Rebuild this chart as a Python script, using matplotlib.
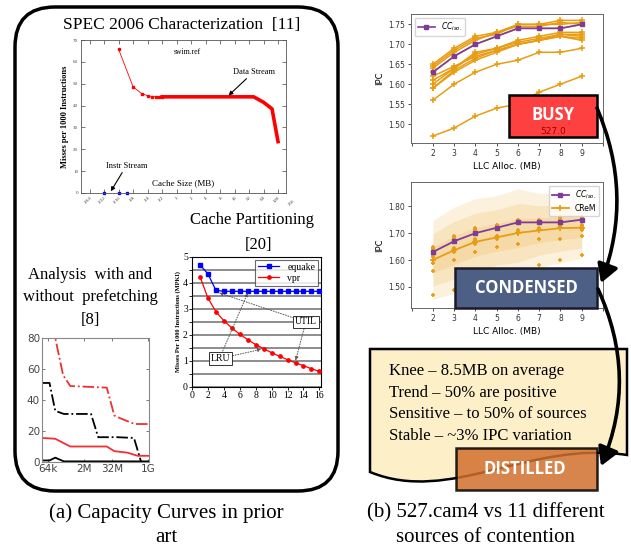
import numpy as np
import matplotlib.pyplot as plt
from matplotlib.patches import FancyBboxPatch, FancyArrowPatch, Rectangle, PathPatch
from matplotlib.path import Path
from matplotlib.ticker import FormatStrFormatter

SERIF = 'Liberation Serif'
SANS = 'DejaVu Sans'
BOX_FONT = 'Open Sans'

# ---- (a) SPEC 2006 characterization (swim.ref) ----
spec_ticks = [2.0 ** k for k in range(-6, 8)]
spec_ticklabels = ['1/64', '1/32', '1/16', '1/8', '1/4', '1/2', '1', '2', '4', '8',
                   '16', '32', '64', '128']
instr_x = [1/32, 1/16, 3/32]
instr_y = [0, 0, 0]
data_sparse_x = [1/16, 1/8, 3/16, 1/4, 5/16, 3/8, 7/16, 1/2]
data_sparse_y = [65.7, 48.5, 45.5, 44.5, 44.1, 44.0, 44.0, 44.0]
data_dense_x = [1/2, 1, 2, 4, 8, 16, 32, 40, 64, 96, 128]
data_dense_y = [44, 44, 44, 44, 44, 44, 44, 44, 41.5, 38.5, 23.5]

# ---- cache partitioning (equake / vpr) ----
cp_ways = list(range(1, 17))
equake = [4.7, 4.35, 3.72, 3.68, 3.68, 3.68, 3.68, 3.68, 3.68, 3.68, 3.68, 3.68,
          3.68, 3.68, 3.68, 3.68]
vpr = [4.25, 3.42, 2.9, 2.55, 2.27, 2.03, 1.82, 1.63, 1.47, 1.32, 1.18, 1.05,
       0.93, 0.82, 0.7, 0.6]

# ---- prefetching analysis (x as log2 of size in bytes) ----
pf_red_dd_x = [15.15, 17.0, 18.1, 19.1, 24.2, 25.25, 26.2, 28.1, 30.0]
pf_red_dd_y = [80, 80, 56, 49, 48, 30, 28, 24.5, 24.5]
pf_blk_dd_x = [15.15, 16.2, 17.0, 18.2, 22.0, 23.0, 25.7, 28.0, 29.0, 30.0]
pf_blk_dd_y = [51, 51, 33, 31, 31, 16, 16, 15.5, 0, 0]
pf_red_x = [15.15, 17.0, 19.1, 24.2, 25.25, 27.1, 28.5, 30.0]
pf_red_y = [15.5, 15.0, 10, 10, 7, 6, 4, 4]
pf_blk_x = [15.15, 16.2, 17.0, 18.2, 30.0]
pf_blk_y = [1, 1, 2.8, 0.4, 0.4]
pf_ticks = [16, 21, 25, 30]
pf_ticklabels = ['64k', '2M', '32M', '1G']

# ---- (b) 527.cam4 vs 11 sources of contention ----
llc = [2, 3, 4, 5, 6, 7, 8, 9]
cc_iso = [1.63, 1.67, 1.70, 1.72, 1.74, 1.74, 1.74, 1.75]
contention = [
    [1.65, 1.69, 1.72, 1.73, 1.75, 1.75, 1.76, 1.76],
    [1.645, 1.685, 1.715, 1.725, 1.75, 1.75, 1.75, 1.755],
    [1.64, 1.68, 1.71, 1.73, 1.745, 1.745, 1.755, 1.75],
    [1.63, 1.67, 1.70, 1.72, 1.74, 1.74, 1.74, 1.75],
    [1.62, 1.645, 1.67, 1.685, 1.70, 1.71, 1.725, 1.725],
    [1.61, 1.64, 1.68, 1.69, 1.71, 1.72, 1.73, 1.73],
    [1.60, 1.64, 1.675, 1.69, 1.705, 1.715, 1.725, 1.72],
    [1.59, 1.635, 1.665, 1.685, 1.70, 1.71, 1.72, 1.715],
    [1.59, 1.63, 1.66, 1.68, 1.70, 1.71, 1.72, 1.71],
    [1.56, 1.60, 1.63, 1.65, 1.66, 1.68, 1.68, 1.69],
    [1.47, 1.49, 1.52, 1.54, 1.55, 1.58, 1.60, 1.62],
]
note_lines = ['Knee \u2013 8.5MB on average', 'Trend \u2013 50% are positive',
              'Sensitive \u2013 to 50% of sources', 'Stable \u2013 ~3% IPC variation']

ORANGE = '#e89c12'
PURPLE = '#7d3c98'

W, H = 631, 551
fig = plt.figure(figsize=(W / 100, H / 100), dpi=100)


def add_ax(x0, y0, x1, y1):
    return fig.add_axes([x0 / W, 1 - y1 / H, (x1 - x0) / W, (y1 - y0) / H])


# background layer: rounded frame, titles, captions
bg = add_ax(0, 0, W, H)
bg.set_xlim(0, W)
bg.set_ylim(H, 0)
bg.axis('off')
bg.add_patch(FancyBboxPatch((15, 7), 323, 484, boxstyle='round,pad=0,rounding_size=40',
                            fc='none', ec='black', lw=2.5))
bg.text(182, 25, 'SPEC 2006 Characterization  [11]', family=SERIF, fontsize=12.5,
        ha='center', va='center')
bg.text(252, 220, 'Cache Partitioning', family=SERIF, fontsize=12, ha='center', va='center')
bg.text(258, 245, '[20]', family=SERIF, fontsize=12, ha='center', va='center')
for y, s in zip([275, 297, 320], ['Analysis  with and', 'without  prefetching', '[8]']):
    bg.text(90, y, s, family=SERIF, fontsize=12, ha='center', va='center')
bg.text(166, 513, '(a) Capacity Curves in prior', family=SERIF, fontsize=15, ha='center', va='center')
bg.text(166, 537, 'art', family=SERIF, fontsize=15, ha='center', va='center')
bg.text(486, 513, '(b) 527.cam4 vs 11 different', family=SERIF, fontsize=15, ha='center', va='center')
bg.text(486, 537, 'sources of contention', family=SERIF, fontsize=15, ha='center', va='center')

# SPEC chart
ax = add_ax(81, 40, 286, 193)
ax.set_xscale('log', base=2)
ax.plot(data_sparse_x, data_sparse_y, color='red', lw=0.6, marker='s', ms=1.6)
ax.plot(data_dense_x, data_dense_y, color='red', lw=2.6, solid_joinstyle='round')
ax.plot(instr_x, instr_y, ls='none', marker='s', ms=2, color='blue', clip_on=False)
ax.set_xlim(2 ** -6.6, 2 ** 7.55)
ax.set_ylim(0, 70)
ax.set_xticks(spec_ticks)
ax.set_xticklabels(spec_ticklabels, rotation=45, ha='right', rotation_mode='anchor')
ax.minorticks_off()
ax.set_yticks(range(0, 71, 10))
ax.tick_params(direction='in', top=True, right=True, labelsize=3.6, length=3, width=0.5,
               pad=2, colors='#444')
ax.text(256, -2.5, '256', rotation=45, ha='right', va='top', rotation_mode='anchor',
        fontsize=3.6, color='#444', family=SERIF)
for lbl in ax.get_xticklabels() + ax.get_yticklabels():
    lbl.set_family(SERIF)
for sp in ax.spines.values():
    sp.set_linewidth(0.6)
    sp.set_color('#555')
ax.set_ylabel('Misses per 1000 Instructions', family=SERIF, fontsize=6, fontweight='bold',
              labelpad=3)
ax.text(0.52, 0.91, 'swim.ref', transform=ax.transAxes, family=SERIF, fontsize=5.5, ha='center')
ax.text(0.5, 0.05, 'Cache Size (MB)', transform=ax.transAxes, family=SERIF, fontsize=6.5,
        ha='center')
ax.annotate('Data Stream', xy=(12, 44.6), xytext=(40, 54.5), family=SERIF, fontsize=6,
            ha='center', arrowprops=dict(arrowstyle='-|>', color='black', lw=0.8,
                                         mutation_scale=6, shrinkA=0, shrinkB=0))
ax.annotate('Instr Stream', xy=(0.043, 0.8), xytext=(0.09, 11.5), family=SERIF, fontsize=6,
            ha='center', arrowprops=dict(arrowstyle='-|>', color='black', lw=0.8,
                                         mutation_scale=6, shrinkA=0, shrinkB=0))

# cache partitioning chart
ax = add_ax(192, 257, 321, 387)
ax.set_yticks(np.arange(0, 5.01, 0.5), minor=True)
ax.grid(which='both', axis='y', color='#6f6f6f', lw=1.1, zorder=0)
ax.plot(cp_ways, equake, color='blue', marker='s', ms=2.6, lw=0.9, label='equake', zorder=3)
ax.plot(cp_ways, vpr, color='red', marker='o', ms=2.4, lw=0.9, label='vpr', zorder=3)
ax.set_xlim(0, 16.2)
ax.set_ylim(0, 5)
ax.set_xticks(range(0, 17, 2))
ax.set_yticks(range(0, 6))
ax.tick_params(labelsize=7, length=2, width=0.6, pad=1)
for lbl in ax.get_xticklabels() + ax.get_yticklabels():
    lbl.set_family(SERIF)
ax.set_ylabel('Misses Per 1000 Instructions (MPKI)', family=SERIF, fontsize=4.6,
              fontweight='bold', labelpad=1)
leg = ax.legend(loc='upper right', prop={'family': SERIF, 'size': 7}, fancybox=False,
                edgecolor='#444', handlelength=2.2, borderpad=0.3, labelspacing=0.2,
                borderaxespad=0.3)
leg.get_frame().set_linewidth(0.8)
leg.set_zorder(5)
dotted = dict(arrowstyle='-|>', ls=':', color='#555', lw=0.7, mutation_scale=5,
              shrinkA=0, shrinkB=0)
box = dict(boxstyle='square,pad=0.2', fc='white', ec='#333', lw=0.7)
ax.annotate('', xy=(7, 3.62), xytext=(3.6, 1.2), arrowprops=dotted)
ax.annotate('LRU', xy=(8.7, 1.45), xytext=(3.6, 1.1), family=SERIF, fontsize=7, ha='center',
            va='center', bbox=box, arrowprops=dotted, zorder=4)
ax.annotate('', xy=(3.4, 3.62), xytext=(14.3, 2.5), arrowprops=dotted)
ax.annotate('UTIL', xy=(13, 1.02), xytext=(14.3, 2.5), family=SERIF, fontsize=7, ha='center',
            va='center', bbox=box, arrowprops=dotted, zorder=4)

# prefetching chart
ax = add_ax(42, 338, 149, 462)
ax.set_xscale('log', base=2)
red = '#f03030'
ax.plot(2.0 ** np.array(pf_red_dd_x), pf_red_dd_y, color=red, ls='-.', lw=1.3)
ax.plot(2.0 ** np.array(pf_blk_dd_x), pf_blk_dd_y, color='black', ls='-.', lw=1.3)
ax.plot(2.0 ** np.array(pf_red_x), pf_red_y, color=red, lw=1.3)
ax.plot(2.0 ** np.array(pf_blk_x), pf_blk_y, color='black', lw=1.3)
ax.set_xlim(2 ** 15.15, 2 ** 30.1)
ax.set_ylim(0, 80)
ax.set_xticks([2.0 ** e for e in pf_ticks])
ax.set_xticklabels(pf_ticklabels)
ax.minorticks_off()
ax.set_yticks(range(0, 81, 20))
ax.tick_params(direction='in', top=True, right=True, labelsize=7.5, length=2, width=0.5,
               pad=1.5, colors='#444')
for sp in ax.spines.values():
    sp.set_color('#888')

# top-right: IPC per source of contention
ax = add_ax(411, 14, 603, 143)
for s in contention:
    ax.plot(llc, s, color=ORANGE, lw=1.1, marker='+', ms=4, mew=1.1)
ax.plot(llc, cc_iso, color=PURPLE, lw=1.2, marker='s', ms=3, label='$CC_{iso.}$')
ax.set_xlim(0.97, 10)
ax.set_ylim(1.4525, 1.776)
ax.set_xticks(range(1, 11))
ax.set_xticklabels([''] + [str(v) for v in llc] + [''])
ax.set_yticks([1.50, 1.55, 1.60, 1.65, 1.70, 1.75])
ax.yaxis.set_major_formatter(FormatStrFormatter('%.2f'))
ax.tick_params(labelsize=5.5, length=2.5, width=0.6, pad=1.5, colors='#333')
ax.set_ylabel('IPC', fontsize=6, labelpad=3)
ax.set_xlabel('LLC Alloc. (MB)', fontsize=6.5, labelpad=3)
ax.legend(loc='upper left', fontsize=5.5, handlelength=2.2, borderpad=0.4)
for sp in ax.spines.values():
    sp.set_color('#666')
    sp.set_linewidth(0.7)

# middle-right: condensed mean +- std bands
arr = np.array(contention)
mean = arr.mean(axis=0)
std = arr.std(axis=0)
ax = add_ax(411, 182, 603, 308)
for k in (3, 2, 1):
    ax.fill_between(llc, mean - k * std, mean + k * std, color=ORANGE, alpha=0.14, lw=0)
for s in contention:
    ax.plot(llc, s, ls='none', color=ORANGE, marker='+', ms=3.5, mew=1.2)
ax.plot(llc, cc_iso, color=PURPLE, lw=1.3, marker='s', ms=3, label='$CC_{iso.}$', zorder=4)
ax.plot(llc, mean, color=ORANGE, lw=1.3, marker='+', ms=4, mew=1.2, label='CReM', zorder=3)
ax.set_xlim(0.97, 10)
ax.set_ylim(1.422, 1.89)
ax.set_xticks(range(1, 11))
ax.set_xticklabels([''] + [str(v) for v in llc] + [''])
ax.set_yticks([1.50, 1.60, 1.70, 1.80])
ax.yaxis.set_major_formatter(FormatStrFormatter('%.2f'))
ax.tick_params(labelsize=5.5, length=2.5, width=0.6, pad=1.5, colors='#333')
ax.set_ylabel('IPC', fontsize=6, labelpad=3)
ax.set_xlabel('LLC Alloc. (MB)', fontsize=6.5, labelpad=3)
ax.legend(loc='upper right', fontsize=5.5, handlelength=2.2, borderpad=0.4, labelspacing=0.3)
for sp in ax.spines.values():
    sp.set_color('#666')
    sp.set_linewidth(0.7)

# overlay: stage boxes, note, arrows
ov = add_ax(0, 0, W, H)
ov.set_xlim(0, W)
ov.set_ylim(H, 0)
ov.axis('off')

ov.add_patch(Rectangle((509, 95), 88, 42, fc='#ff4040', ec='black', lw=1.8))
ov.text(553, 115, 'BUSY', family=BOX_FONT, fontweight='bold', fontsize=12, color='white',
        ha='center', va='center')
ov.text(553, 131, '527.0', family=SANS, fontsize=6.5, color='#9a0000', ha='center', va='center')

ov.add_patch(Rectangle((455, 268), 142, 40, fc='#4e5f86', ec='#1a1a2a', lw=1.8))
ov.text(526, 288, 'CONDENSED', family=BOX_FONT, fontweight='bold', fontsize=12, color='white',
        ha='center', va='center')

note_verts = [(370, 349), (627, 349), (627, 455), (530, 440), (450, 505), (370, 472), (370, 349)]
note_codes = [Path.MOVETO, Path.LINETO, Path.LINETO, Path.CURVE4, Path.CURVE4, Path.CURVE4,
              Path.CLOSEPOLY]
ov.add_patch(PathPatch(Path(note_verts, note_codes), fc='#fdf0c9', ec='black', lw=1.8))
for i, s in enumerate(note_lines):
    ov.text(389, 371 + 21.7 * i, s, family=SERIF, fontsize=12, ha='left', va='center')

ov.add_patch(Rectangle((456, 448), 141, 42, fc='#d2702e', alpha=0.85, ec='black', lw=1.8))
ov.text(525, 469, 'DISTILLED', family=BOX_FONT, fontweight='bold', fontsize=12, color='white',
        ha='center', va='center')

for p0, p1, rad in [((597, 108), (601, 283), -0.2), ((598, 289), (601, 466), -0.22)]:
    ov.add_patch(FancyArrowPatch(p0, p1, connectionstyle=f'arc3,rad={rad}',
                                 arrowstyle='-|>,head_length=0.55,head_width=0.32',
                                 mutation_scale=20, lw=2.6, color='black',
                                 shrinkA=0, shrinkB=0))

fig.savefig('out.png', dpi=100)
